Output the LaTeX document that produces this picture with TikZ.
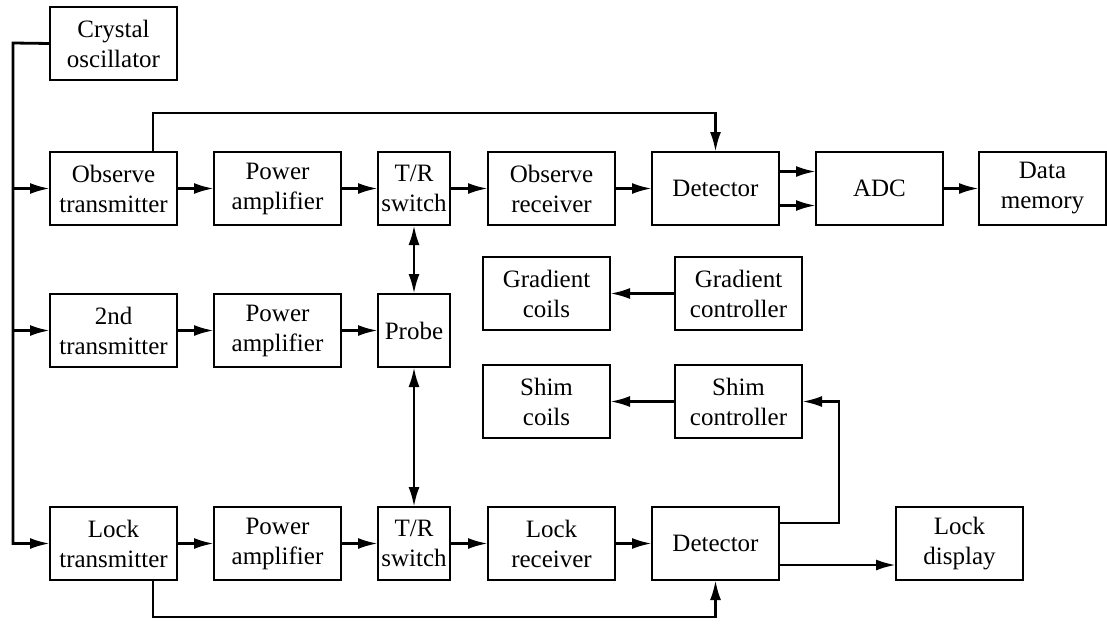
\documentclass[tikz,border=0pt]{standalone}
\usepackage{fontspec}
\setmainfont{Liberation Serif}
\usetikzlibrary{positioning,arrows.meta}

\begin{document}
\begin{tikzpicture}[x=1pt, y=-1pt, line width=2.8pt, >={Latex[length=20pt,width=11pt]},
  blk/.style={draw, minimum width=127pt, minimum height=73pt, inner sep=0pt, outer sep=0pt, align=center, font=\fontsize{25}{30}\selectfont},
  narrow/.style={blk, minimum width=72pt}]
\useasboundingbox (0,0) rectangle (1107,624);
% observe row
\node[blk] (otx) at (113.5,188.5) {Observe\\transmitter};
\node[blk, above=72pt of otx] (xo) {Crystal\\oscillator};
\node[blk, right=37pt of otx] (pa1) {Power\\amplifier};
\node[narrow, right=37pt of pa1] (trs1) {T/R\\switch};
\node[blk, right=38pt of trs1] (orx) {Observe\\receiver};
\node[blk, right=37pt of orx] (det1) {Detector};
\node[blk, right=37pt of det1] (adc) {ADC};
\node[blk, right=36pt of adc] (mem) {Data\\memory};
% second row
\node[blk, below=69pt of otx] (stx) {2nd\\transmitter};
\node[blk, right=37pt of stx] (pa2) {Power\\amplifier};
\node[narrow, right=37pt of pa2] (probe) {Probe};
\node[blk, right=33pt of probe, yshift=37pt] (gcoil) {Gradient\\coils};
\node[blk, right=65pt of gcoil] (gctl) {Gradient\\controller};
\node[blk, below=35pt of gcoil] (scoil) {Shim\\coils};
\node[blk, right=65pt of scoil] (sctl) {Shim\\controller};
% lock row
\node[blk, below=140pt of stx] (ltx) {Lock\\transmitter};
\node[blk, right=37pt of ltx] (pa3) {Power\\amplifier};
\node[narrow, right=37pt of pa3] (trs2) {T/R\\switch};
\node[blk, right=38pt of trs2] (lrx) {Lock\\receiver};
\node[blk, right=37pt of lrx] (det2) {Detector};
\node[blk, right=117pt of det2] (ldisp) {Lock\\display};
% oscillator bus
\coordinate (bus) at (13,43);
\draw[->] (xo.west) -- (bus) |- (ltx.west);
\draw[->] (bus |- otx.west) -- (otx.west);
\draw[->] (bus |- stx.west) -- (stx.west);
% signal paths
\draw[->] (otx)--(pa1); \draw[->] (pa1)--(trs1); \draw[->] (trs1)--(orx); \draw[->] (orx)--(det1);
\draw[->] ([yshift=17pt]det1.east)--([yshift=17pt]adc.west);
\draw[->] ([yshift=-17pt]det1.east)--([yshift=-17pt]adc.west);
\draw[->] (adc)--(mem);
\draw[->] (stx)--(pa2); \draw[->] (pa2)--(probe);
\draw[<->] (trs1)--(probe); \draw[<->] (probe)--(trs2);
\draw[->] (gctl)--(gcoil); \draw[->] (sctl)--(scoil);
\draw[->] (ltx)--(pa3); \draw[->] (pa3)--(trs2); \draw[->] (trs2)--(lrx); \draw[->] (lrx)--(det2);
\draw[->] ([yshift=-21.5pt]det2.east)--([yshift=-21.5pt]ldisp.west);
\draw[->] ([yshift=20.5pt]det2.east) -- ++(60pt,0) |- (sctl.east);
% reference lines
\draw[->] ([xshift=39.5pt]otx.north) -- ++(0,39pt) -| (det1.north);
\draw[->] ([xshift=39.5pt]ltx.south) -- ++(0,-37pt) -| (det2.south);
\end{tikzpicture}
\end{document}
